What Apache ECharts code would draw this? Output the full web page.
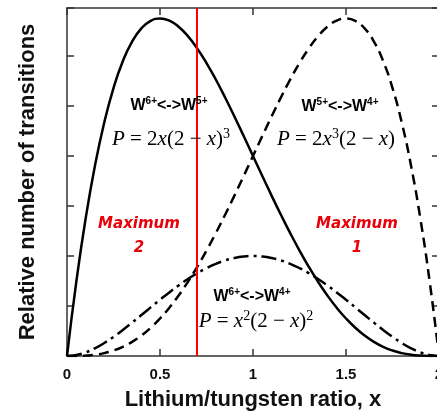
<!DOCTYPE html>
<html>
<head>
<meta charset="utf-8">
<style>
  html, body { margin: 0; padding: 0; background: #fff; }
  #chart { width: 437px; height: 417px; }
</style>
<script src="https://cdn.jsdelivr.net/npm/echarts@6/dist/echarts.min.js"></script>
</head>
<body>
<div id="chart"></div>
<script>
// Lithium/tungsten ratio sample points
const ratioX = [0, 0.05, 0.1, 0.15, 0.2, 0.25, 0.3, 0.35, 0.4, 0.45, 0.5, 0.55, 0.6, 0.65, 0.7, 0.75, 0.8, 0.85, 0.9, 0.95, 1,
  1.05, 1.1, 1.15, 1.2, 1.25, 1.3, 1.35, 1.4, 1.45, 1.5, 1.55, 1.6, 1.65, 1.7, 1.75, 1.8, 1.85, 1.9, 1.95, 2];

// W6+ <-> W5+ transitions
const w6w5 = [0, 0.7415, 1.3718, 1.8995, 2.3328, 2.6797, 2.9478, 3.1445, 3.2768, 3.3515, 3.375, 3.3535, 3.2928, 3.1985, 3.0758,
  2.9297, 2.7648, 2.5855, 2.3958, 2.1995, 2.0, 1.8005, 1.6038, 1.4125, 1.2288, 1.0547, 0.8918, 0.7415, 0.6048, 0.4825, 0.375,
  0.2825, 0.2048, 0.1415, 0.0918, 0.0547, 0.0288, 0.0125, 0.0038, 0.0005, 0];

// W5+ <-> W4+ transitions
const w5w4 = [0, 0.0005, 0.0038, 0.0125, 0.0288, 0.0547, 0.0918, 0.1415, 0.2048, 0.2825, 0.375, 0.4825, 0.6048, 0.7415, 0.8918,
  1.0547, 1.2288, 1.4125, 1.6038, 1.8005, 2.0, 2.1995, 2.3958, 2.5855, 2.7648, 2.9297, 3.0758, 3.1985, 3.2928, 3.3535, 3.375,
  3.3515, 3.2768, 3.1445, 2.9478, 2.6797, 2.3328, 1.8995, 1.3718, 0.7415, 0];

// W6+ <-> W4+ transitions
const w6w4 = [0, 0.0095, 0.0361, 0.0770, 0.1296, 0.1914, 0.2601, 0.3335, 0.4096, 0.4865, 0.5625, 0.6360, 0.7056, 0.7700, 0.8281,
  0.8789, 0.9216, 0.9555, 0.9801, 0.9950, 1.0, 0.9950, 0.9801, 0.9555, 0.9216, 0.8789, 0.8281, 0.7700, 0.7056, 0.6360, 0.5625,
  0.4865, 0.4096, 0.3335, 0.2601, 0.1914, 0.1296, 0.0770, 0.0361, 0.0095, 0];

// Composition marker
const markerRatio = 0.7;

// Axis ranges
const xRange = [0, 2];
const xStep = 0.5;
const yRange = [0, 3.48];
const yStep = 0.5;

const xTitle = 'Lithium/tungsten ratio, x';
const yTitle = 'Relative number of transitions';

const pairs = ys => ratioX.map((x, i) => [x, ys[i]]);

const chart = echarts.init(document.getElementById('chart'), null, { renderer: 'canvas' });

// every axis keeps its own side of the frame
const frame = () => ({ show: true, onZero: false, lineStyle: { color: '#333', width: 1.5 } });
const innerTick = () => ({ show: true, inside: true, length: 7, lineStyle: { color: '#333', width: 1.5 } });
const sansBold = () => ({ fontFamily: 'Liberation Sans, Arial, sans-serif', fontWeight: 'bold', color: '#111' });

// rich-text styles for the annotations
const wRich = {
  w: { fontFamily: 'Liberation Sans, Arial, sans-serif', fontWeight: 'bold', fontSize: 16, lineHeight: 19, color: '#111' },
  s: { fontFamily: 'Liberation Sans, Arial, sans-serif', fontWeight: 'bold', fontSize: 10, lineHeight: 11, color: '#111', verticalAlign: 'top' }
};
const pRich = {
  i: { fontFamily: 'Liberation Serif, Times New Roman, serif', fontStyle: 'italic', fontSize: 21, lineHeight: 23, color: '#5a5a5a' },
  r: { fontFamily: 'Liberation Serif, Times New Roman, serif', fontSize: 21, lineHeight: 23, color: '#5a5a5a' },
  s: { fontFamily: 'Liberation Serif, Times New Roman, serif', fontSize: 14, lineHeight: 14, color: '#5a5a5a', verticalAlign: 'top' }
};

function richText(text, rich, x, y) {
  return { type: 'text', x: x, y: y, z: 10,
    style: { text: text, rich: rich, align: 'center', verticalAlign: 'middle' } };
}
function maxText(text, x, y) {
  return { type: 'text', x: x, y: y, z: 10,
    style: { text: text, align: 'center', verticalAlign: 'middle',
      fontFamily: 'DejaVu Sans, sans-serif', fontWeight: 'bold', fontStyle: 'italic',
      fontSize: 15, lineHeight: 24, fill: '#e8000b' } };
}

const option = {
  backgroundColor: '#fff',
  animation: false,
  grid: { left: 67, top: 8, width: 372, bottom: 61, containLabel: false, outerBoundsMode: 'none' },
  xAxis: [
    {
      type: 'value', position: 'bottom', min: xRange[0], max: xRange[1], interval: xStep,
      axisLine: frame(), axisTick: innerTick(), splitLine: { show: false },
      axisLabel: Object.assign({ fontSize: 15, margin: 11, showMaxLabel: true }, sansBold()),
      name: xTitle, nameLocation: 'middle', nameGap: 33,
      nameTextStyle: Object.assign({ fontSize: 22 }, sansBold())
    },
    {
      type: 'value', position: 'top', min: xRange[0], max: xRange[1], interval: xStep,
      axisLine: frame(), axisTick: innerTick(), axisLabel: { show: false }, splitLine: { show: false }
    }
  ],
  yAxis: [
    {
      type: 'value', position: 'left', min: yRange[0], max: yRange[1], interval: yStep,
      axisLine: frame(), axisTick: innerTick(), axisLabel: { show: false }, splitLine: { show: false },
      name: yTitle, nameLocation: 'middle', nameGap: 28,
      nameTextStyle: Object.assign({ fontSize: 22 }, sansBold())
    },
    {
      type: 'value', position: 'right', min: yRange[0], max: yRange[1], interval: yStep,
      axisLine: frame(), axisTick: innerTick(), axisLabel: { show: false }, splitLine: { show: false }
    }
  ],
  series: [
    {
      name: 'W6+<->W5+', type: 'line', data: pairs(w6w5), smooth: true, showSymbol: false,
      lineStyle: { color: '#000', width: 2.5, type: 'solid' },
      markLine: {
        silent: true, symbol: 'none', label: { show: false },
        lineStyle: { color: '#ff0000', width: 2, type: 'solid' },
        data: [{ xAxis: markerRatio }]
      }
    },
    {
      name: 'W5+<->W4+', type: 'line', data: pairs(w5w4), smooth: true, showSymbol: false,
      lineStyle: { color: '#000', width: 2.5, type: [10, 6] }
    },
    {
      name: 'W6+<->W4+', type: 'line', data: pairs(w6w4), smooth: true, showSymbol: false,
      lineStyle: { color: '#000', width: 2.5, type: [15, 5, 3, 5] }
    }
  ],
  graphic: [
    richText('{w|W}{s|6+}{w|<->W}{s|5+}', wRich, 169, 106),
    richText('{i|P}{r| = 2}{i|x}{r|(2 − }{i|x}{r|)}{s|3}', pRich, 171, 139),
    richText('{w|W}{s|5+}{w|<->W}{s|4+}', wRich, 340, 107),
    richText('{i|P}{r| = 2}{i|x}{s|3}{r|(2 − }{i|x}{r|)}', pRich, 336, 139),
    richText('{w|W}{s|6+}{w|<->W}{s|4+}', wRich, 252, 297),
    richText('{i|P}{r| = }{i|x}{s|2}{r|(2 − }{i|x}{r|)}{s|2}', pRich, 256, 321),
    maxText('Maximum\n2', 139, 236),
    maxText('Maximum\n1', 357, 236)
  ]
};

chart.setOption(option);
</script>
</body>
</html>
